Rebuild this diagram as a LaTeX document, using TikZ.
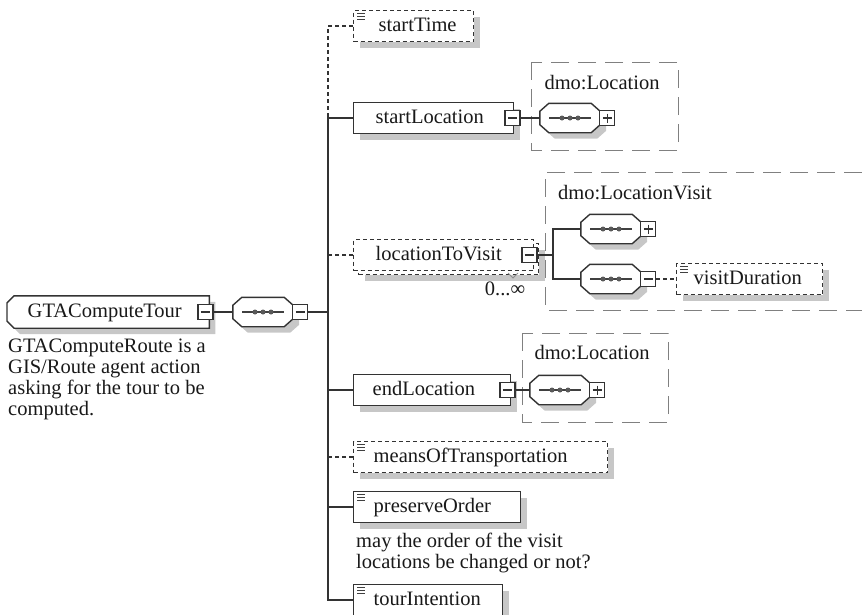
\documentclass[tikz,border=0pt]{standalone}
\usepackage{fontspec}
\setmainfont{Liberation Serif}
\usetikzlibrary{shadows}

\pgfdeclarelayer{back}
\pgfsetlayers{back,main}

\tikzset{
  wire/.style={draw=black!80, line width=1.4pt},
  optwire/.style={wire, dash pattern=on 4pt off 3pt},
  shade/.style={drop shadow={shadow xshift=6pt, shadow yshift=-6pt, fill=black!22, opacity=1}},
  boxbase/.style={draw=black!80, line width=1.4pt, fill=white,
    font=\fontsize{20.5}{21}\selectfont, text=black!90, align=left,
    inner xsep=20pt, inner ysep=0pt, minimum height=31pt,
    text height=14pt, text depth=4pt, anchor=west},
  elem/.style={boxbase, shade},
  optelem/.style={boxbase, shade, dash pattern=on 4pt off 3pt},
  sqbox/.style={draw=black!80, line width=1.2pt, fill=white, minimum size=15pt, inner sep=0pt},
  minusbox/.style={sqbox, path picture={
    \draw[line width=1.2pt, black!80]
      ([xshift=3pt]path picture bounding box.west) -- ([xshift=-3pt]path picture bounding box.east);}},
  plusbox/.style={sqbox, path picture={
    \draw[line width=1.2pt, black!80]
      ([xshift=3pt]path picture bounding box.west) -- ([xshift=-3pt]path picture bounding box.east)
      ([yshift=-3pt]path picture bounding box.north) -- ([yshift=3pt]path picture bounding box.south);}},
  seqnode/.style={minimum width=60pt, minimum height=29pt, inner sep=0pt},
  typeframe/.style={draw=black!50, line width=1pt, dash pattern=on 18pt off 9pt},
  typelabel/.style={font=\fontsize{20.5}{21}\selectfont, text=black!90, inner sep=0pt},
  note/.style={font=\fontsize{20.5}{21}\selectfont, text=black!90, align=left,
    inner sep=0pt, anchor=north west},
}

% sequence compositor: octagonal outline with the dotted bar inside
\newcommand\seqglyph[1]{%
  \draw[draw=black!80, line width=1.4pt, fill=white, shade]
    ([xshift=9pt]#1.north west) -- ([xshift=-9pt]#1.north east)
    -- ([yshift=-8pt]#1.north east) -- ([yshift=8pt]#1.south east)
    -- ([xshift=-9pt]#1.south east) -- ([xshift=9pt]#1.south west)
    -- ([yshift=8pt]#1.south west) -- ([yshift=-8pt]#1.north west) -- cycle;
  \draw[line width=1.1pt, black!75] ([xshift=-21pt]#1.center) -- ([xshift=21pt]#1.center);
  \foreach \d in {-8,0,8} \fill[black!65] ([xshift=\d pt]#1.center) circle (2.5pt);
}

% simple-type marker in the top left corner of an element box
\newcommand\simpleicon[1]{%
  \foreach \k in {0,1,2}
    \draw[black!75, line width=0.9pt] ([shift={(4,4+2.6*\k)}]#1.north west) -- ++(8,0);
}

\begin{document}
\begin{tikzpicture}[x=1pt, y=-1pt]
\useasboundingbox (0,0) rectangle (862,614);

% complex type frames
\draw[typeframe] (531,62) rectangle (678,150);
\node[typelabel] (tLoc1) at (602,83) {dmo:Location};
\draw[typeframe] (862,172) -- (545,172) -- (545,310) -- (862,310);
\node[typelabel, anchor=west] (tVisit) at (558,193) {dmo:LocationVisit};
\draw[typeframe] (522,333) rectangle (668,422);
\node[typelabel] (tLoc2) at (592,353) {dmo:Location};

% root element
\node[boxbase, draw=none, fill=none, text width=161pt] (root) at (7,312) {GTAComputeTour};
\node[minusbox] (rootSq) at ([xshift=-4pt]root.east) {};
\node[seqnode] (seqRoot) at (263,312) {};
\node[minusbox, anchor=west] (seqRootSq) at ([xshift=-1pt]seqRoot.east) {};
\coordinate (tr) at (328,312);
\node[note] (rootNote) at (8,339)
  {GTAComputeRoute is a\\GIS/Route agent action\\asking for the tour to be\\computed.};

% children of the sequence
\node[optelem, text width=70pt, inner xsep=25pt] (startTime) at (353,26) {startTime};

\node[elem, text width=116pt, inner xsep=22pt] (startLocation) at (353,118) {startLocation};
\node[minusbox] (slSq) at ([xshift=-2pt]startLocation.east) {};
\node[seqnode] (seqSL) at (570,118) {};
\node[plusbox, anchor=west] (seqSLSq) at ([xshift=-1pt]seqSL.east) {};

\node[optelem, text width=136pt, inner xsep=22pt] (lvBack) at (358,259) {};
\node[boxbase, dash pattern=on 4pt off 3pt, text width=136pt, inner xsep=22pt]
  (locationToVisit) at (353,255) {locationToVisit};
\node[minusbox] (lvSq) at ([xshift=-5pt]locationToVisit.east) {};
\draw[black!45, line width=0.8pt] (508,273) -- ++(5,5) -- ++(5,-5);
\node[typelabel] (lvMult) at (505,289) {0...∞};
\coordinate (lvFork) at (553,255);
\node[seqnode] (seqV1) at (611,229) {};
\node[plusbox, anchor=west] (seqV1Sq) at ([xshift=-1pt]seqV1.east) {};
\node[seqnode] (seqV2) at (611,279) {};
\node[minusbox, anchor=west] (seqV2Sq) at ([xshift=-1pt]seqV2.east) {};
\node[optelem, text width=112pt, inner xsep=17pt] (visitDuration) at (676,279) {visitDuration};

\node[elem, text width=119pt, inner xsep=19pt] (endLocation) at (353,390) {endLocation};
\node[minusbox] (elSq) at ([xshift=-4pt]endLocation.east) {};
\node[seqnode] (seqEL) at (560,390) {};
\node[plusbox, anchor=west] (seqELSq) at ([xshift=-1pt]seqEL.east) {};

\node[optelem, text width=214pt] (means) at (353,457) {meansOfTransportation};
\node[elem, text width=127pt] (preserve) at (353,507) {preserveOrder};
\node[note] (preserveNote) at (356,533) {may the order of the visit\\locations be changed or not?};
\node[elem, text width=109pt] (tour) at (353,600) {tourIntention};

\simpleicon{startTime}
\simpleicon{visitDuration}
\simpleicon{means}
\simpleicon{preserve}
\simpleicon{tour}

% outlines of the root and the compositors
\begin{pgfonlayer}{back}
  \draw[draw=black!80, line width=1.4pt, fill=white, shade]
    ([xshift=7pt]root.north west) -- (root.north east) -- (root.south east)
    -- ([xshift=7pt]root.south west) -- ([yshift=7pt]root.south west)
    -- ([yshift=-7pt]root.north west) -- cycle;
  \foreach \s in {seqRoot,seqSL,seqV1,seqV2,seqEL} {\seqglyph{\s}}
\end{pgfonlayer}

% connectors
\draw[wire] (rootSq.east) -- (seqRoot.west);
\draw[wire] (seqRootSq.east) -- (tr);
\draw[optwire] (startTime.west) -| (tr |- startLocation.west);
\draw[wire] (startLocation.west) -| (tr) |- (tour.west);
\draw[optwire] (locationToVisit.west) -- (tr |- locationToVisit.west);
\draw[wire] (endLocation.west) -- (tr |- endLocation.west);
\draw[optwire] (means.west) -- (tr |- means.west);
\draw[wire] (preserve.west) -- (tr |- preserve.west);
\draw[wire] (slSq.east) -- (seqSL.west);
\draw[wire] (lvSq.east) -- (lvFork);
\draw[wire] (seqV1.west) -| (lvFork) |- (seqV2.west);
\draw[optwire] (seqV2Sq.east) -- (visitDuration.west);
\draw[wire] (elSq.east) -- (seqEL.west);
\end{tikzpicture}
\end{document}
